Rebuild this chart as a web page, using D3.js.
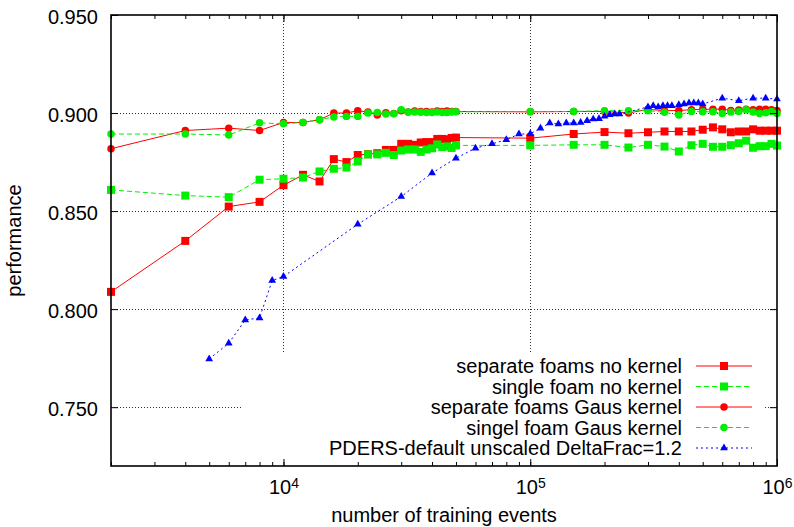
<!DOCTYPE html>
<html>
<head>
<meta charset="utf-8">
<script src="https://cdn.jsdelivr.net/npm/d3@7"></script>
<style>
  body { margin: 0; background: #fff; }
  text { font-family: "Liberation Sans", Arial, sans-serif; }
</style>
</head>
<body>
<div id="graph"></div>
<script>
var width = 794;
var height = 527;

// x values (number of training events) shared by the four foam series
var eventsFoam = [2000, 4000, 6000, 8000, 10000, 12000, 14000, 16000, 18000, 20000,
    22000, 24000, 26000, 28000, 30000, 32000, 34000, 36000, 38000, 40000,
    42000, 44000, 46000, 48000, 50000, 100000, 150000, 200000, 250000, 300000,
    350000, 400000, 450000, 500000, 550000, 600000, 650000, 700000, 750000, 800000,
    850000, 900000, 950000, 1000000];

var sepNoKernel = [0.8088, 0.8348, 0.8523, 0.8547, 0.8632, 0.8685, 0.8651, 0.8765, 0.8750, 0.8786,
    0.8790, 0.8795, 0.8812, 0.8812, 0.8843, 0.8843, 0.8838, 0.8850, 0.8852, 0.8852,
    0.8868, 0.8868, 0.8866, 0.8873, 0.8875, 0.8872, 0.8893, 0.8903, 0.8897, 0.8902,
    0.8906, 0.8906, 0.8906, 0.8915, 0.8927, 0.8917, 0.8902, 0.8906, 0.8906, 0.8917,
    0.8910, 0.8910, 0.8910, 0.8910];

var singleNoKernel = [0.8608, 0.8579, 0.8571, 0.8660, 0.8665, 0.8671, 0.8702, 0.8716, 0.8722, 0.8753,
    0.8789, 0.8789, 0.8797, 0.8786, 0.8809, 0.8814, 0.8814, 0.8802, 0.8814, 0.8820,
    0.8840, 0.8826, 0.8830, 0.8822, 0.8835, 0.8835, 0.8838, 0.8838, 0.8824, 0.8838,
    0.8829, 0.8804, 0.8836, 0.8843, 0.8828, 0.8828, 0.8836, 0.8846, 0.8859, 0.8823,
    0.8831, 0.8831, 0.8843, 0.8834];

var sepGaus = [0.8818, 0.8911, 0.8923, 0.8911, 0.8952, 0.8952, 0.8966, 0.9000, 0.9000, 0.9012,
    0.9005, 0.8990, 0.9002, 0.8998, 0.9012, 0.9005, 0.9010, 0.9008, 0.9008, 0.9005,
    0.9010, 0.9008, 0.9010, 0.9008, 0.9008, 0.9006, 0.9008, 0.9008, 0.9000, 0.9019,
    0.9012, 0.9013, 0.9017, 0.9019, 0.9019, 0.9020, 0.9013, 0.9015, 0.9019, 0.9017,
    0.9019, 0.9019, 0.9017, 0.9013];

var singleGaus = [0.8893, 0.8893, 0.8888, 0.8950, 0.8945, 0.8952, 0.8966, 0.8980, 0.8983, 0.8983,
    0.9000, 0.9003, 0.8995, 0.8996, 0.9017, 0.9005, 0.9005, 0.9004, 0.9003, 0.9003,
    0.9005, 0.9003, 0.9003, 0.9005, 0.9006, 0.9008, 0.9008, 0.9012, 0.9012, 0.9012,
    0.9004, 0.8990, 0.9008, 0.9007, 0.9006, 0.8998, 0.9005, 0.9008, 0.9017, 0.9005,
    0.8998, 0.9002, 0.9008, 0.8998];

// PDERS has its own x values
var eventsPders = [5000, 6000, 7000, 8000, 9000, 10000, 20000, 30000, 40000, 50000,
    60000, 70000, 80000, 90000, 100000, 110000, 120000, 130000, 140000, 150000,
    160000, 170000, 180000, 190000, 200000, 210000, 220000, 230000, 300000, 315000,
    330000, 345000, 360000, 375000, 400000, 420000, 440000, 460000, 480000, 500000,
    600000, 700000, 800000, 900000, 1000000];

var pders = [0.7746, 0.7826, 0.7945, 0.7955, 0.8146, 0.8166, 0.8433, 0.8574, 0.8694, 0.8770,
    0.8821, 0.8843, 0.8864, 0.8893, 0.8894, 0.8923, 0.8949, 0.8944, 0.8949, 0.8949,
    0.8952, 0.8961, 0.8969, 0.8971, 0.8983, 0.8991, 0.8995, 0.8995, 0.9031, 0.9037,
    0.9031, 0.9037, 0.9037, 0.9037, 0.9042, 0.9046, 0.9051, 0.9051, 0.9051, 0.9046,
    0.9076, 0.9063, 0.9076, 0.9076, 0.9071];

var yTicks = [0.75, 0.80, 0.85, 0.90, 0.95];
var xMajor = [10000, 100000, 1000000];
var xGrid = [10000, 100000];
var yGrid = [0.75, 0.80, 0.85, 0.90];

var seriesNames = ["separate foams no kernel", "single foam no kernel",
    "separate foams Gaus kernel", "singel foam Gaus kernel",
    "PDERS-default unscaled DeltaFrac=1.2"];

var series = [
    {name: seriesNames[0], xs: eventsFoam, ys: sepNoKernel, color: "#ff0000", dash: null, symbol: d3.symbolSquare, size: 64},
    {name: seriesNames[1], xs: eventsFoam, ys: singleNoKernel, color: "#00ee00", dash: "5,3", symbol: d3.symbolSquare, size: 64},
    {name: seriesNames[2], xs: eventsFoam, ys: sepGaus, color: "#ff0000", dash: null, symbol: d3.symbolCircle, size: 44},
    {name: seriesNames[3], xs: eventsFoam, ys: singleGaus, color: "#00ee00", dash: "5,3", symbol: d3.symbolCircle, size: 44},
    {name: seriesNames[4], xs: eventsPders, ys: pders, color: "#0000ff", dash: "2,3", symbol: d3.symbolTriangle, size: 26}
];

var plot = {left: 111, right: 777, top: 15, bottom: 466};

var x = d3.scaleLog()
    .domain([2000, 1000000])
    .range([plot.left, plot.right]);

var y = d3.scaleLinear()
    .domain([0.72, 0.95])
    .range([plot.bottom, plot.top]);

var svg = d3.select("#graph")
    .append("svg")
    .attr("width", width)
    .attr("height", height);

// grid
var grid = svg.append("g")
    .attr("stroke", "#000")
    .attr("stroke-width", 1)
    .attr("stroke-dasharray", "1,2")
    .attr("opacity", 0.8);

grid.selectAll(".gy")
    .data(yGrid)
    .enter().append("line")
    .attr("x1", plot.left)
    .attr("x2", plot.right)
    .attr("y1", function(d) { return Math.round(y(d)) + 0.5; })
    .attr("y2", function(d) { return Math.round(y(d)) + 0.5; });

grid.selectAll(".gx")
    .data(xGrid)
    .enter().append("line")
    .attr("x1", function(d) { return Math.round(x(d)) + 0.5; })
    .attr("x2", function(d) { return Math.round(x(d)) + 0.5; })
    .attr("y1", plot.top)
    .attr("y2", plot.bottom);

// key box hides the grid behind it
svg.append("rect")
    .attr("x", 242)
    .attr("y", 354)
    .attr("width", 523)
    .attr("height", plot.bottom - 354 - 1)
    .attr("fill", "#fff");

// series
var line = d3.line()
    .x(function(d) { return x(d[0]); })
    .y(function(d) { return y(d[1]); });

series.forEach(function(s)
{
    var pts = s.xs.map(function(v, i) { return [v, s.ys[i]]; });
    var g = svg.append("g");

    g.append("path")
        .datum(pts)
        .attr("d", line)
        .attr("fill", "none")
        .attr("stroke", s.color)
        .attr("stroke-width", 1)
        .attr("stroke-dasharray", s.dash);

    g.selectAll("path.pt")
        .data(pts)
        .enter().append("path")
        .attr("class", "pt")
        .attr("d", d3.symbol().type(s.symbol).size(s.size))
        .attr("transform", function(d) { return "translate(" + x(d[0]) + "," + y(d[1]) + ")"; })
        .attr("fill", s.color);
});

// axes
var fontSize = "20px";

var xBottomMinor = d3.axisBottom(x).tickValues(x.ticks()).tickSize(-4).tickFormat("");
var xBottomMajor = d3.axisBottom(x).tickValues(xMajor).tickSize(-7).tickPadding(14).tickFormat("");
var xTopMinor = d3.axisTop(x).tickValues(x.ticks()).tickSize(-4).tickFormat("");
var xTopMajor = d3.axisTop(x).tickValues(xMajor).tickSize(-7).tickFormat("");
var yLeft = d3.axisLeft(y).tickValues(yTicks).tickSize(-7).tickPadding(13).tickFormat(d3.format(".3f"));
var yRight = d3.axisRight(y).tickValues(yTicks).tickSize(-7).tickFormat("");

svg.append("g").attr("transform", "translate(0," + plot.bottom + ")").call(xBottomMinor);
var gxMajor = svg.append("g").attr("transform", "translate(0," + plot.bottom + ")").call(xBottomMajor);
svg.append("g").attr("transform", "translate(0," + plot.top + ")").call(xTopMinor);
svg.append("g").attr("transform", "translate(0," + plot.top + ")").call(xTopMajor);
var gyLeft = svg.append("g").attr("transform", "translate(" + plot.left + ",0)").call(yLeft);
svg.append("g").attr("transform", "translate(" + plot.right + ",0)").call(yRight);

svg.selectAll(".domain").remove();
svg.selectAll(".tick line").attr("stroke", "#000").attr("stroke-width", 1);

gyLeft.selectAll("text")
    .attr("font-size", fontSize)
    .attr("fill", "#000")
    .attr("dy", "0.4em");

gxMajor.selectAll("text")
    .attr("font-size", fontSize)
    .attr("fill", "#000")
    .attr("dy", "0.71em")
    .each(function(d)
    {
        var t = d3.select(this);
        t.append("tspan").text("10");
        t.append("tspan")
            .attr("dy", "-0.45em")
            .attr("font-size", "14px")
            .text(Math.round(Math.log10(d)));
    });

// border
svg.append("rect")
    .attr("x", plot.left)
    .attr("y", plot.top)
    .attr("width", plot.right - plot.left)
    .attr("height", plot.bottom - plot.top)
    .attr("fill", "none")
    .attr("stroke", "#000")
    .attr("stroke-width", 1.6);

// axis titles
svg.append("text")
    .attr("x", (plot.left + plot.right) / 2)
    .attr("y", 522)
    .attr("text-anchor", "middle")
    .attr("font-size", fontSize)
    .text("number of training events");

svg.append("text")
    .attr("transform", "translate(21," + ((plot.top + plot.bottom) / 2) + ") rotate(-90)")
    .attr("text-anchor", "middle")
    .attr("font-size", fontSize)
    .text("performance");

// key
var key = svg.append("g");
var keyY = [366, 386.5, 407, 427.5, 448];

series.forEach(function(s, i)
{
    var row = key.append("g").attr("transform", "translate(0," + keyY[i] + ")");
    row.append("text")
        .attr("x", 682)
        .attr("y", 0)
        .attr("dy", "0.36em")
        .attr("text-anchor", "end")
        .attr("font-size", fontSize)
        .text(s.name);
    row.append("line")
        .attr("x1", 696)
        .attr("x2", 752)
        .attr("y1", 0)
        .attr("y2", 0)
        .attr("stroke", s.color)
        .attr("stroke-width", 1)
        .attr("stroke-dasharray", s.dash);
    row.append("path")
        .attr("d", d3.symbol().type(s.symbol).size(s.size))
        .attr("transform", "translate(724,0)")
        .attr("fill", s.color);
});
</script>
</body>
</html>
